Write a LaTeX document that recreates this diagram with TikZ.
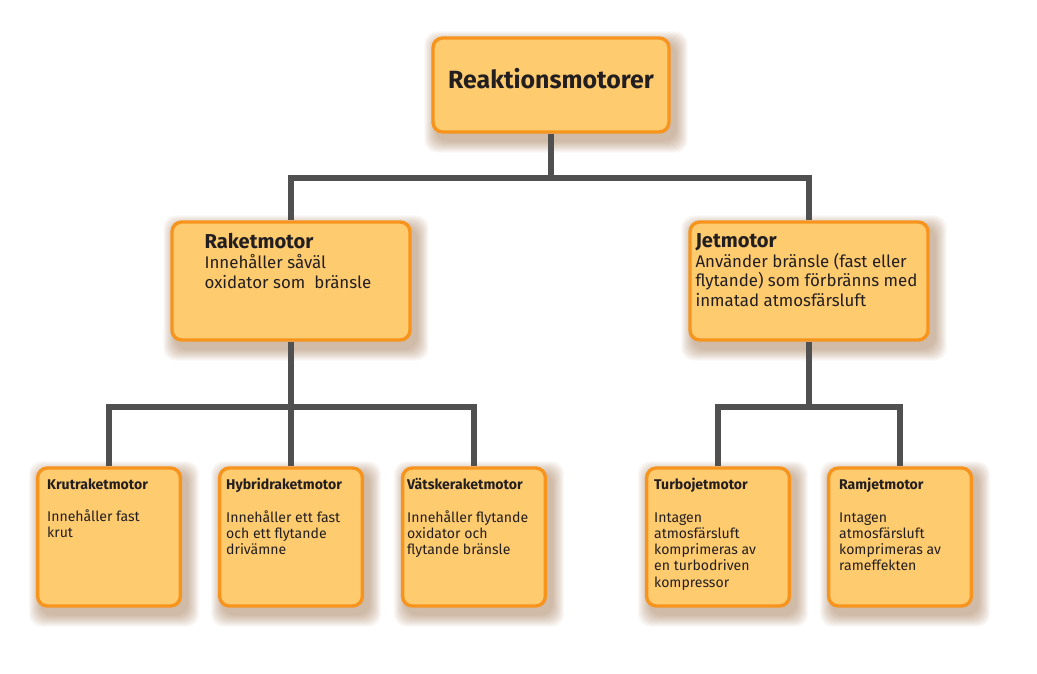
\documentclass[tikz,border=0pt]{standalone}
\usepackage{fontspec}
\setmainfont{Fira Sans}
\usetikzlibrary{positioning, backgrounds}

\definecolor{boxfill}{HTML}{FECB6F}
\definecolor{boxline}{HTML}{F7941E}
\definecolor{linkgray}{HTML}{505050}
\definecolor{inkdark}{HTML}{231F20}
\definecolor{shadowbrown}{HTML}{8C5A2E}

\tikzset{
  motorbox/.style={draw=boxline, fill=boxfill, line width=2.4pt, rounded corners=7pt, inner sep=0pt},
  topbox/.style={motorbox, minimum width=5.9cm, minimum height=2.35cm, text=inkdark,
    font=\fontsize{17.7}{20}\selectfont\bfseries},
  midbox/.style={motorbox, minimum width=5.95cm, minimum height=2.95cm},
  smallbox/.style={motorbox, minimum width=3.57cm, minimum height=3.45cm},
  midtext/.style={anchor=north west, inner sep=0pt, align=left, text=inkdark,
    font=\fontsize{12}{14}\selectfont},
  smalltext/.style={anchor=north west, inner sep=0pt, align=left, text=inkdark,
    font=\fontsize{10}{11.5}\selectfont},
  link/.style={draw=linkgray, line width=4.6pt},
}

\begin{document}
\begin{tikzpicture}[x=0.025cm, y=-0.025cm]
\useasboundingbox (0,0) rectangle (1037,674);

% boxes
\node[topbox] (top) at (551,85) {\raisebox{4.2pt}[\height][\depth]{Reaktionsmotorer}};
\node[midbox] (raket) at (291,281) {};
\node[midbox] (jet) at (809,281) {};
\node[smallbox] (krut) at (109,537) {};
\node[smallbox] (hybrid) at (291,537) {};
\node[smallbox] (vatske) at (474,537) {};
\node[smallbox] (turbo) at (718,537) {};
\node[smallbox] (ram) at (900,537) {};

% texts
\node[midtext] (rakettxt) at ([shift={(34,13)}]raket.north west)
  {{\fontsize{14.3}{16}\selectfont\bfseries Raketmotor}\\Innehåller såväl\\oxidator som~ bränsle};
\node[midtext] (jettxt) at ([shift={(7,13)}]jet.north west)
  {{\fontsize{14.3}{16}\selectfont\bfseries Jetmotor}\\Använder bränsle (fast eller\\flytande) som förbränns med\\inmatad atmosfärsluft};
\node[smalltext] (kruttxt) at ([shift={(11,12)}]krut.north west)
  {\textbf{Krutraketmotor}\\[11.5pt]Innehåller fast\\krut};
\node[smalltext] (hybridtxt) at ([shift={(8,12)}]hybrid.north west)
  {\textbf{Hybridraketmotor}\\[11.5pt]Innehåller ett fast\\och ett flytande\\drivämne};
\node[smalltext] (vatsketxt) at ([shift={(6,12)}]vatske.north west)
  {\textbf{Vätskeraketmotor}\\[11.5pt]Innehåller flytande\\oxidator och\\flytande bränsle};
\node[smalltext] (turbotxt) at ([shift={(9,12)}]turbo.north west)
  {\textbf{Turbojetmotor}\\[11.5pt]Intagen\\atmosfärsluft\\komprimeras av\\en turbodriven\\kompressor};
\node[smalltext] (ramtxt) at ([shift={(12,12)}]ram.north west)
  {\textbf{Ramjetmotor}\\[11.5pt]Intagen\\atmosfärsluft\\komprimeras av\\rameffekten};

% connectors
\coordinate (topfork) at (551,178);
\coordinate (raketfork) at (291,407);
\coordinate (jetfork) at (809,407);
\draw[link] (top.south) -- (topfork);
\draw[link] (raket.north) |- (topfork) -| (jet.north);
\draw[link] (raket.south) -- (raketfork);
\draw[link] (krut.north) |- (raketfork) -| (vatske.north);
\draw[link] (raketfork) -- (hybrid.north);
\draw[link] (jet.south) -- (jetfork);
\draw[link] (turbo.north) |- (jetfork) -| (ram.north);

% soft shadows
\begin{scope}[on background layer]
  \foreach \b in {top,raket,jet,krut,hybrid,vatske,turbo,ram}
    \foreach \k in {1,...,12}
      \fill[shadowbrown, opacity=0.045, rounded corners=9pt]
        ([shift={(5-\k,7-\k)}]\b.north west) rectangle ([shift={(5+\k,7+\k)}]\b.south east);
\end{scope}
\end{tikzpicture}
\end{document}
